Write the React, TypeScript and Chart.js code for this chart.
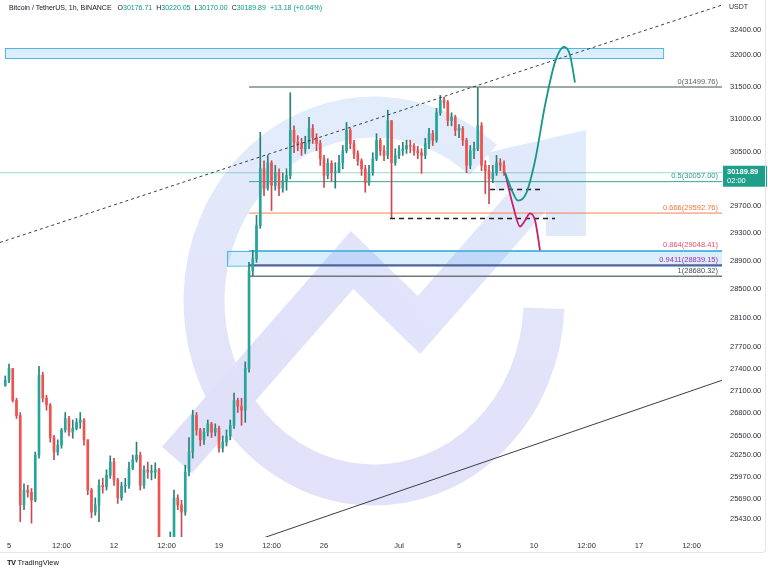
import React, { useEffect, useRef } from "react";
import { Chart, registerables } from "chart.js";
Chart.register(...registerables);

// x values are days since 5 Jun 2023 00:00 (6-hour candles)
const candleStartDay = -0.25;
const candleStepDay = 0.25;
const firstOpen = 27170;
const closes = [
  27240, 27400, 26970, 26770, 25610, 25800, 25770, 25670, 26250, 27310,
  27000, 26910, 26480, 26290, 26380, 26580, 26730, 26550, 26600, 26680,
  26710, 26450, 25800, 25520, 25610, 25860, 25840, 25990, 26160, 25930,
  25700, 25850, 25860, 26080, 26190, 26250, 25860, 26060, 26030, 26030,
  26060, 25110, 25050, 25070, 25170, 25700, 25610, 25520, 26030, 26290,
  26770, 26580, 26450, 26550, 26660, 26550, 26600, 26340, 26420, 26500,
  26640, 26970, 26890, 26840, 27400, 28760, 28930, 29410, 30250, 29960,
  30340, 30000, 30190, 29960, 30070, 30150, 30830, 30650, 30630, 30550,
  30630, 30860, 30720, 30630, 30400, 30150, 30330, 30190, 30190, 30340,
  30520, 30830, 30630, 30480, 30370, 30250, 30040, 30190, 30400, 30680,
  30520, 30450, 30980, 30340, 30450, 30520, 30550, 30600, 30590, 30520,
  30490, 30450, 30630, 30780, 30680, 31100, 31290, 31260, 30980, 31030,
  30830, 30860, 30680, 30300, 30520, 30550, 30900, 30300, 30220, 30100,
  30190, 30340, 30300, 30189.89,
];
const highs = [
  27300, 27460, 27400, 27000, 26810, 25880, 25860, 25820, 26290, 27430,
  27350, 27040, 26930, 26510, 26450, 26600, 26810, 26760, 26710, 26730,
  26810, 26730, 26450, 25820, 25700, 25930, 25950, 26060, 26240, 26210,
  25950, 25900, 25950, 26160, 26250, 26420, 26290, 26110, 26160, 26120,
  26150, 26080, 25170, 25170, 25270, 25800, 25740, 25670, 26120, 26480,
  26840, 26810, 26600, 26600, 26710, 26680, 26660, 26630, 26500, 26580,
  26710, 27070, 27000, 27000, 27490, 28880, 29050, 29560, 30800, 30370,
  30450, 30370, 30300, 30250, 30190, 30250, 31410, 30900, 30750, 30710,
  30740, 31030, 30920, 30780, 30680, 30450, 30400, 30370, 30340, 30450,
  30600, 30950, 30860, 30680, 30520, 30400, 30300, 30300, 30490, 30780,
  30710, 30600, 31140, 30980, 30550, 30600, 30650, 30680, 30680, 30630,
  30590, 30550, 30710, 30860, 30830, 31170, 31370, 31340, 31290, 31100,
  31060, 30920, 30890, 30710, 30600, 30650, 31490, 30950, 30370, 30300,
  30300, 30450, 30400, 30370,
];
const lows = [
  27160, 27210, 26950, 26730, 25400, 25550, 25710, 25380, 25650, 26210,
  26950, 26840, 26420, 26190, 26250, 26340, 26550, 26500, 26470, 26580,
  26600, 26380, 25740, 25450, 25480, 25400, 25760, 25800, 25950, 25860,
  25630, 25670, 25770, 25820, 26060, 26160, 25800, 25820, 25950, 25930,
  25950, 24920, 24860, 24920, 24950, 25110, 25550, 25170, 25480, 25980,
  26210, 26510, 26370, 26390, 26500, 26480, 26500, 26290, 26290, 26370,
  26450, 26600, 26810, 26640, 26680, 27350, 28690, 28880, 29370, 29850,
  29930, 29630, 29930, 29850, 29900, 29930, 30100, 30490, 30520, 30450,
  30480, 30550, 30630, 30520, 30300, 29970, 30100, 30070, 29960, 30190,
  30250, 30490, 30550, 30400, 30300, 30150, 29900, 30000, 30150, 30370,
  30450, 30370, 30400, 29510, 30300, 30400, 30450, 30480, 30490, 30450,
  30400, 30180, 30400, 30550, 30600, 30650, 31060, 31170, 30900, 30900,
  30750, 30720, 30600, 30190, 30250, 30400, 30520, 30220, 29880, 29730,
  30040, 30150, 30220, 30150,
];

const xMin = -0.6;
const xMax = 47.53;
const yMin = 25207;
const yMax = 32886;
const xTicks = [0, 3.5, 7, 10.5, 14, 17.5, 21, 26, 30, 35, 38.5, 42, 45.5];
const xTickLabels = ["5", "12:00", "12", "12:00", "19", "12:00", "26", "Jul", "5", "10", "12:00", "17", "12:00"];
const yTicks = [25430, 25690, 25970, 26250, 26500, 26800, 27100, 27400, 27700, 28100, 28500, 28900, 29300, 29700, 30500, 31000, 31500, 32000, 32400];

const fibLevels = [0, 0.5, 0.666, 0.864, 0.9411, 1];
const fibPrices = [31499.76, 30057.0, 29592.76, 29048.41, 28839.15, 28680.32];
const fibLineColors = ["#7d8c84", "#3aa597", "#f7804f", "#5bb8e0", "#5d5f98", "#6f7b76"];
const fibLabelColors = ["#5d606b", "#2e9c8c", "#f2733e", "#ef4a68", "#9a2fa8", "#4a4d57"];
const fibWidths = [1.5, 1, 1, 1, 2, 1.5];
const fibStartDay = 16.0;

const lastPrice = 30189.89;
const countdown = "02:00";

const upperTrendDays = [-0.6, 47.53];
const upperTrendPrices = [29165, 32804];
const lowerTrendDays = [16.87, 47.53];
const lowerTrendPrices = [25190, 27241];

const dashADays = [32.07, 35.4];
const dashAPrice = 29940;
const dashBDays = [25.4, 36.4];
const dashBPrice = 29513;

const bullPathDays = [33.07, 33.53, 33.93, 34.47, 35.07, 35.73, 36.4, 37.0, 37.4, 37.73];
const bullPathPrices = [30190, 29925, 29777, 29880, 30373, 31212, 31890, 32130, 32000, 31570];
const bearPathDays = [33.07, 33.6, 34.07, 34.4, 34.73, 35.07, 35.4];
const bearPathPrices = [30190, 29700, 29397, 29484, 29587, 29484, 29050];

const zoneTopDays = [-0.27, 43.6];
const zoneTopPrices = [31953, 32112];
const zoneLowDays = [14.53, 47.53];
const zoneLowPrices = [28839.15, 29048.41];

const UP = "#26a69a";
const DOWN = "#ef5350";
const FONT = '"Liberation Sans", Arial, sans-serif';

function buildCandles() {
  const opens: number[] = [];
  closes.forEach((c, i) => opens.push(i === 0 ? firstOpen : closes[i - 1]));
  const wick: any[] = [];
  const body: any[] = [];
  const up: boolean[] = [];
  closes.forEach((c, i) => {
    const x = candleStartDay + i * candleStepDay;
    const o = opens[i];
    const h = Math.max(highs[i], o, c);
    const l = Math.min(lows[i], o, c);
    wick.push({ x, y: [l, h] });
    body.push({ x, y: [Math.min(o, c), Math.max(o, c)] });
    up.push(c >= o);
  });
  return { wick, body, up };
}

const overlayPlugin = {
  id: "overlay",
  beforeDatasetsDraw(chart: any) {
    const { ctx, chartArea: ca, scales } = chart;
    const xs = scales.x;
    const ys = scales.y;
    ctx.save();
    ctx.beginPath();
    ctx.rect(ca.left, ca.top, ca.right - ca.left, ca.bottom - ca.top);
    ctx.clip();
    // watermark logo
    const g = ctx.createLinearGradient(0, 95, 0, 505);
    g.addColorStop(0, "#e1edfb");
    g.addColorStop(0.45, "#e3e5fa");
    g.addColorStop(1, "#e1e1f9");
    ctx.strokeStyle = g;
    ctx.lineWidth = 41;
    ctx.lineCap = "butt";
    ctx.beginPath();
    ctx.ellipse(374, 301, 170, 184, 0, 0.04, 5.41, false);
    ctx.stroke();
    const g2 = ctx.createLinearGradient(177, 460, 586, 134);
    g2.addColorStop(0, "#e0e0f9");
    g2.addColorStop(0.6, "#e1e4fa");
    g2.addColorStop(1, "#e0ecfb");
    ctx.strokeStyle = g2;
    ctx.lineWidth = 40;
    ctx.lineJoin = "miter";
    ctx.beginPath();
    ctx.moveTo(177, 460);
    ctx.lineTo(352, 260);
    ctx.lineTo(419, 325);
    ctx.lineTo(548, 178);
    ctx.stroke();
    ctx.beginPath();
    ctx.moveTo(492, 172);
    ctx.lineTo(566, 155);
    ctx.lineTo(566, 236);
    ctx.stroke();
    // zones
    const zones = [
      [zoneTopDays, zoneTopPrices],
      [zoneLowDays, zoneLowPrices],
    ];
    zones.forEach(([d, p]) => {
      const x1 = xs.getPixelForValue(d[0]);
      const x2 = xs.getPixelForValue(d[1]);
      const y1 = ys.getPixelForValue(p[1]);
      const y2 = ys.getPixelForValue(p[0]);
      ctx.fillStyle = "rgba(33,150,243,0.16)";
      ctx.fillRect(x1, y1, x2 - x1, y2 - y1);
      ctx.strokeStyle = "#55b5df";
      ctx.lineWidth = 1;
      ctx.strokeRect(Math.round(x1) + 0.5, Math.round(y1) + 0.5, x2 - x1, y2 - y1);
    });
    ctx.restore();
  },
  afterDraw(chart: any) {
    const { ctx, chartArea: ca, scales } = chart;
    const ys = scales.y;
    ctx.save();
    ctx.font = `7.5px ${FONT}`;
    ctx.textAlign = "right";
    ctx.textBaseline = "bottom";
    fibLevels.forEach((lv, i) => {
      const py = ys.getPixelForValue(fibPrices[i]);
      ctx.fillStyle = fibLabelColors[i];
      ctx.fillText(`${lv}(${fibPrices[i].toFixed(2)})`, ca.right - 4, py - 1.5);
    });
    const py = ys.getPixelForValue(lastPrice);
    ctx.fillStyle = "#1f9e8a";
    ctx.fillRect(ca.right + 1, py - 7, 44, 21);
    ctx.fillStyle = "#ffffff";
    ctx.textAlign = "left";
    ctx.textBaseline = "middle";
    ctx.font = `bold 7.5px ${FONT}`;
    ctx.fillText(lastPrice.toFixed(2), ca.right + 5, py - 1);
    ctx.font = `7.5px ${FONT}`;
    ctx.fillText(countdown, ca.right + 5, py + 8);
    ctx.fillStyle = "#2a2e39";
    ctx.font = `7px ${FONT}`;
    ctx.fillText("USDT", ca.right + 7, 7);
    ctx.restore();
  },
};

export default function App() {
  const ref = useRef<HTMLCanvasElement | null>(null);
  useEffect(() => {
    if (!ref.current) return;
    const { wick, body, up } = buildCandles();
    const line = (days: number[], prices: number[], color: string, width: number, extra: any = {}) => ({
      type: "line",
      data: days.map((d, i) => ({ x: d, y: prices[i] })),
      borderColor: color,
      borderWidth: width,
      pointRadius: 0,
      fill: false,
      ...extra,
    });
    const datasets: any[] = [];
    datasets.push(line([xMin, xMax], [lastPrice, lastPrice], "rgba(38,166,154,0.45)", 1, { order: 6 }));
    fibLevels.forEach((_, i) => {
      datasets.push(line([fibStartDay, xMax], [fibPrices[i], fibPrices[i]], fibLineColors[i], fibWidths[i], { order: 5 }));
    });
    datasets.push({
      type: "bar",
      data: wick,
      backgroundColor: (c: any) => (up[c.dataIndex] ? "#2c7f77" : "#c94a55"),
      barThickness: 1,
      grouped: false,
      borderWidth: 0,
      order: 4,
    });
    datasets.push({
      type: "bar",
      data: body,
      backgroundColor: (c: any) => (up[c.dataIndex] ? UP : DOWN),
      barThickness: 2,
      minBarLength: 1,
      grouped: false,
      borderWidth: 0,
      order: 3,
    });
    datasets.push(line(upperTrendDays, upperTrendPrices, "#3a3d45", 1, { borderDash: [3, 3], order: 1 }));
    datasets.push(line(lowerTrendDays, lowerTrendPrices, "#3a3d45", 1, { order: 1 }));
    datasets.push(line(dashADays, [dashAPrice, dashAPrice], "#222", 1.5, { borderDash: [5, 4], order: 1 }));
    datasets.push(line(dashBDays, [dashBPrice, dashBPrice], "#222", 1.5, { borderDash: [5, 4], order: 1 }));
    datasets.push(line(bullPathDays, bullPathPrices, "#15978a", 1.8, { cubicInterpolationMode: "monotone", order: 0 }));
    datasets.push(line(bearPathDays, bearPathPrices, "#cc1f6a", 1.8, { cubicInterpolationMode: "monotone", order: 0 }));

    const chart = new Chart(ref.current, {
      type: "bar",
      data: { datasets },
      plugins: [overlayPlugin as any],
      options: {
        animation: false,
        responsive: false,
        devicePixelRatio: 1,
        layout: { autoPadding: false, padding: { left: 0, right: 0, top: 0, bottom: 23 } },
        plugins: { legend: { display: false }, tooltip: { enabled: false } },
        scales: {
          x: {
            type: "linear",
            min: xMin,
            max: xMax,
            offset: false,
            bounds: "data",
            grid: { display: false, drawTicks: false },
            border: { display: false },
            afterBuildTicks: (s: any) => {
              s.ticks = xTicks.map((v) => ({ value: v }));
            },
            afterFit: (s: any) => {
              s.height = 16;
              s.paddingLeft = 0;
              s.paddingRight = 0;
              s.paddingTop = 0;
              s.paddingBottom = 0;
            },
            ticks: {
              autoSkip: false,
              maxRotation: 0,
              padding: 4,
              color: "#2a2e39",
              font: { size: 7.5, family: FONT },
              callback: (v: any) => {
                const i = xTicks.indexOf(Number(v));
                return i >= 0 ? xTickLabels[i] : "";
              },
            },
          },
          y: {
            type: "logarithmic",
            position: "right",
            min: yMin,
            max: yMax,
            bounds: "data",
            grid: { display: false, drawTicks: false },
            border: { display: false },
            afterBuildTicks: (s: any) => {
              s.ticks = yTicks.map((v) => ({ value: v }));
            },
            afterFit: (s: any) => {
              s.width = 46;
              s.paddingTop = 0;
              s.paddingBottom = 0;
              s.paddingLeft = 0;
              s.paddingRight = 0;
            },
            ticks: {
              autoSkip: false,
              padding: 8,
              color: "#2a2e39",
              font: { size: 7.5, family: FONT },
              callback: (v: any) => Number(v).toFixed(2),
            },
          },
        },
      } as any,
    });
    return () => chart.destroy();
  }, []);

  const teal = "#089981";
  const dark = "#131722";
  return (
    <div style={{ position: "fixed", left: 0, top: 0, width: 768, height: 576, background: "#fff", overflow: "hidden", fontFamily: FONT }}>
      <canvas ref={ref} width={768} height={576} style={{ position: "absolute", left: 0, top: 0, width: 768, height: 576 }} />
      <div style={{ position: "absolute", left: 0, top: 0, width: 765, height: 552, border: "1px solid #e3e6ec", borderTop: "none", borderLeft: "none", borderRadius: "0 0 4px 0", pointerEvents: "none" }} />
      <div style={{ position: "absolute", left: 9, top: 3, fontSize: 7, color: dark, whiteSpace: "nowrap", lineHeight: "10px" }}>
        <span>Bitcoin / TetherUS, 1h, BINANCE</span>
        <span style={{ marginLeft: 6 }}>O</span><span style={{ color: teal }}>30176.71</span>
        <span style={{ marginLeft: 4 }}>H</span><span style={{ color: teal }}>30220.05</span>
        <span style={{ marginLeft: 4 }}>L</span><span style={{ color: teal }}>30170.00</span>
        <span style={{ marginLeft: 4 }}>C</span><span style={{ color: teal }}>30189.89</span>
        <span style={{ marginLeft: 4, color: teal }}>+13.18 (+0.04%)</span>
      </div>
      <div style={{ position: "absolute", left: 7, top: 558, fontSize: 7.5, color: dark, whiteSpace: "nowrap", lineHeight: "10px" }}>
        <span style={{ fontWeight: 900, letterSpacing: -0.5, marginRight: 2 }}>TV</span>
        <span>TradingView</span>
      </div>
    </div>
  );
}
